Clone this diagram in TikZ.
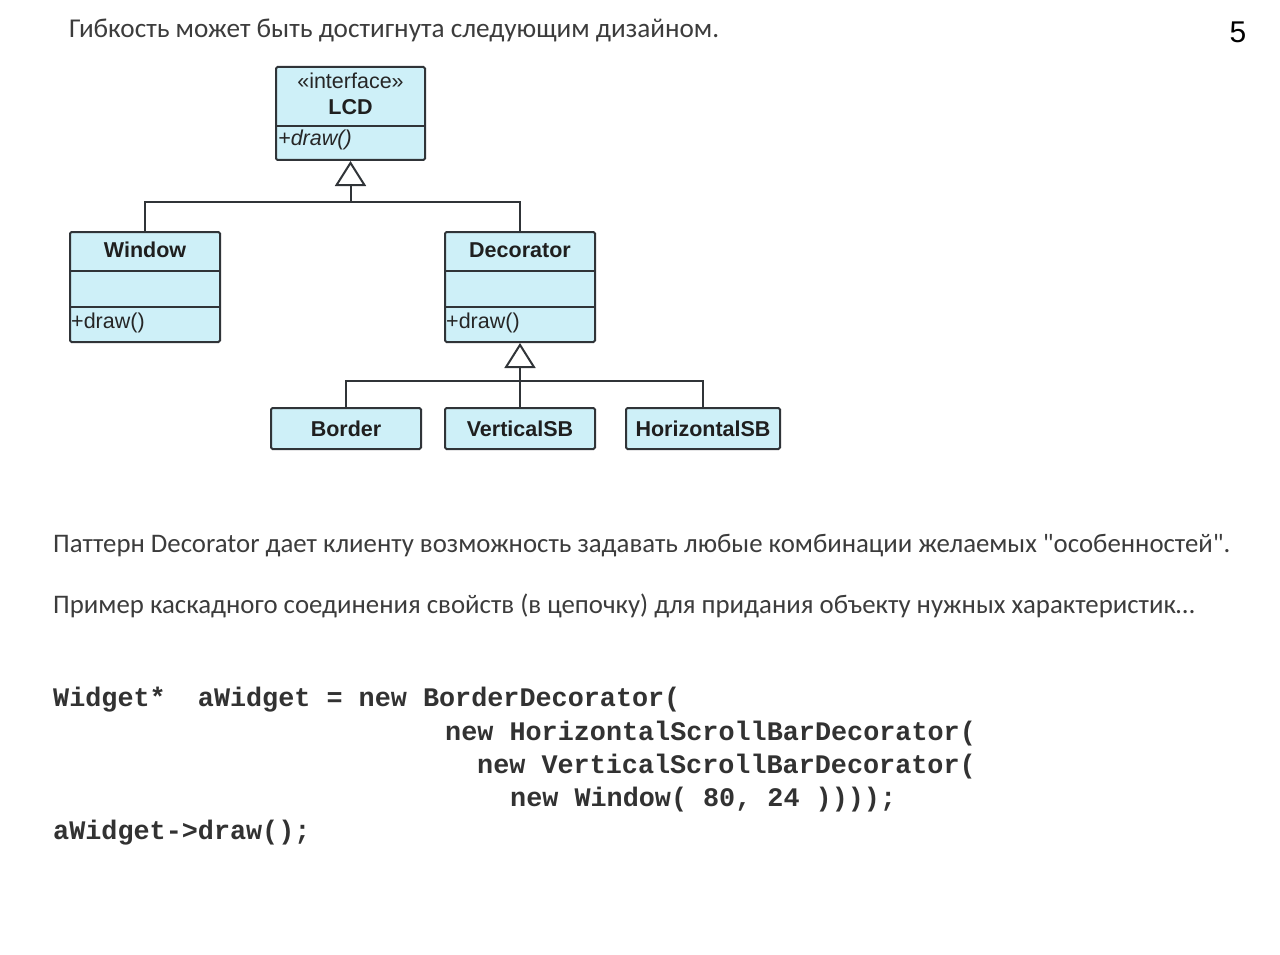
\documentclass[tikz,border=0pt]{standalone}
\usepackage{fontspec}
\setmainfont{Carlito}[Ligatures=TeXReset]
\newfontfamily\umlfont{Liberation Sans}
\newfontfamily\codefont{Liberation Mono}
\usetikzlibrary{arrows.meta}
\definecolor{boxfill}{RGB}{206,240,248}
\definecolor{boxline}{RGB}{48,52,56}
\definecolor{bodytext}{RGB}{60,60,60}
\definecolor{codetext}{RGB}{50,50,50}
\tikzset{
  umlbox/.style={draw=boxline, fill=boxfill, line width=2pt, rounded corners=1.5pt, inner sep=0pt},
  divider/.style={draw=boxline, line width=2pt},
  umlname/.style={font=\umlfont\bfseries\fontsize{21.5}{24}\selectfont, text=black!88, inner sep=0pt},
  umlop/.style={font=\umlfont\fontsize{21.5}{24}\selectfont, text=black!85, inner sep=0pt, anchor=west},
  link/.style={draw=boxline, line width=2pt},
  inherit/.style={link, -{Triangle[open, length=25pt, width=31pt, line width=2pt]}},
  prose/.style={font=\fontsize{26.8}{30}\selectfont, text=bodytext, anchor=base west, inner sep=0pt},
  code/.style={font=\codefont\bfseries\fontsize{26.8}{30}\selectfont, text=codetext, anchor=base west, inner sep=0pt},
}
\begin{document}
\begin{tikzpicture}[x=1pt, y=-1pt]
\useasboundingbox[fill=white] (0,0) rectangle (1280,955);

% heading and page number
\node[prose, font=\fontsize{27.2}{30}\selectfont] (title) at (69,38) {Гибкость может быть достигнута следующим дизайном.};
\node[font=\umlfont\fontsize{30}{34}\selectfont, inner sep=0pt] (pagenum) at (1238,32) {5};

% interface LCD
\node[umlbox, minimum width=149pt, minimum height=93pt] (lcd) at (350.5,113.5) {};
\draw[divider] (lcd.west |- 0,126) -- (lcd.east |- 0,126);
\node[umlop, anchor=center] (lcdstereo) at (350.5,81) {«interface»};
\node[umlname] (lcdname) at (350.5,107) {LCD};
\node[umlop, font=\umlfont\itshape\fontsize{21.5}{24}\selectfont] (lcdop) at (278,140) {+draw()};

% Window
\node[umlbox, minimum width=150pt, minimum height=110pt] (window) at (145,287) {};
\draw[divider] (window.west |- 0,271) -- (window.east |- 0,271);
\draw[divider] (window.west |- 0,307) -- (window.east |- 0,307);
\node[umlname] (windowname) at (145,250) {Window};
\node[umlop] (windowop) at (71,323) {+draw()};

% Decorator
\node[umlbox, minimum width=150pt, minimum height=110pt] (decor) at (520,287) {};
\draw[divider] (decor.west |- 0,271) -- (decor.east |- 0,271);
\draw[divider] (decor.west |- 0,307) -- (decor.east |- 0,307);
\node[umlname] (decorname) at (520,250) {Decorator};
\node[umlop] (decorop) at (446,323) {+draw()};

% concrete decorators
\node[umlbox, umlname, minimum width=150pt, minimum height=41pt] (border) at (346,428.5) {Border};
\node[umlbox, umlname, minimum width=150pt, minimum height=41pt] (vsb) at (520,428.5) {VerticalSB};
\node[umlbox, umlname, minimum width=154pt, minimum height=41pt] (hsb) at (703,428.5) {HorizontalSB};

% generalisation to LCD
\coordinate (j1) at (350.5,202);
\draw[link] (window.north) |- (j1) -| (decor.north);
\draw[inherit] (j1) -- (lcd.south);

% generalisation to Decorator
\coordinate (j2) at (520,381);
\draw[link] (border.north) |- (j2) -| (hsb.north);
\draw[link] (vsb.north) -- (j2);
\draw[inherit] (j2) -- (decor.south);

% explanation
\node[prose] (note1) at (53,552) {Паттерн Decorator дает клиенту возможность задавать любые комбинации желаемых "особенностей".};
\node[prose] (note2) at (53,613) {Пример каскадного соединения свойств (в цепочку) для придания объекту нужных характеристик…};

% code sample
\node[code] (c1) at (53,706) {Widget*\ \ aWidget = new BorderDecorator(};
\node[code] (c2) at (445,740) {new HorizontalScrollBarDecorator(};
\node[code] (c3) at (477,773) {new VerticalScrollBarDecorator(};
\node[code] (c4) at (510,806) {new Window( 80, 24 ))));};
\node[code] (c5) at (53,839) {aWidget->draw();};
\end{tikzpicture}
\end{document}
